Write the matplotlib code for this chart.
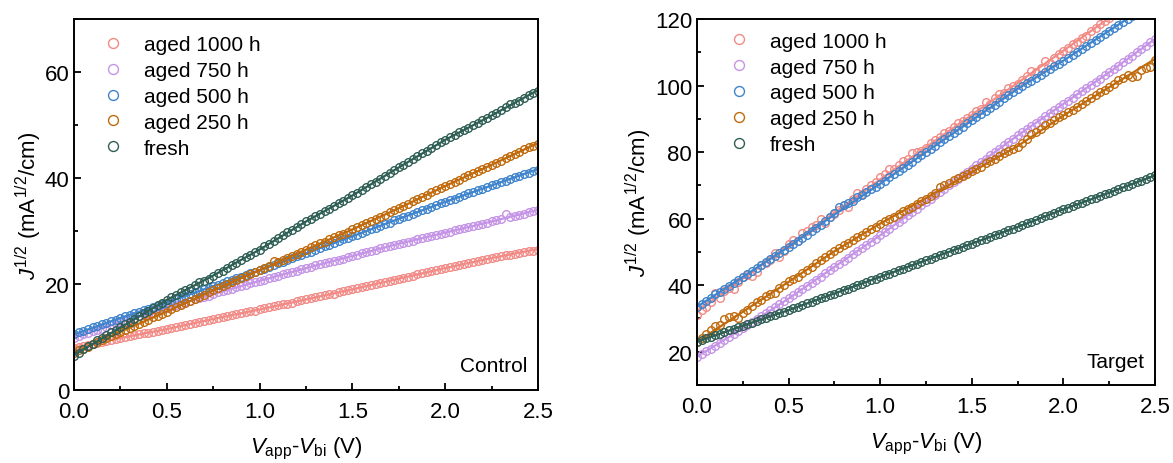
import numpy as np
import matplotlib
matplotlib.use("Agg")
from matplotlib import pyplot as plt
from matplotlib.ticker import MultipleLocator

plt.rcParams["font.family"] = ["Liberation Sans", "DejaVu Sans"]
plt.rcParams["mathtext.fontset"] = "custom"
plt.rcParams["mathtext.rm"] = "Liberation Sans"
plt.rcParams["mathtext.it"] = "Liberation Sans:italic"

# bias grid (V), 0.025 V steps
v = np.round(np.arange(101) * 0.025, 3)
v_fit = [0.0, 0.25, 0.5, 0.75, 1.0, 1.25, 1.5, 1.75, 2.0, 2.25, 2.5]

labels = ["aged 1000 h", "aged 750 h", "aged 500 h", "aged 250 h", "fresh"]
colors = ["#F28A86", "#C594E6", "#3F84CC", "#C06A0C", "#2E5E54"]

# ---- Control ----
ctrl_1000 = [8.0, 8.2, 8.3, 8.5, 8.7, 8.9, 9.1, 9.2, 9.4, 9.6, 9.8,
             10.0, 10.1, 10.3, 10.5, 10.7, 10.8, 11.0, 11.2, 11.3, 11.5,
             11.7, 11.9, 12.1, 12.3, 12.5, 12.6, 12.8, 13.0, 13.2, 13.4,
             13.6, 13.8, 14.0, 14.1, 14.3, 14.5, 14.7, 14.9, 15.0, 15.2,
             15.4, 15.6, 15.8, 16.0, 16.2, 16.3, 16.5, 16.7, 16.9, 17.1,
             17.3, 17.5, 17.7, 17.9, 18.1, 18.2, 18.4, 18.6, 18.8, 19.0,
             19.2, 19.4, 19.6, 19.8, 20.0, 20.2, 20.4, 20.6, 20.8, 21.0,
             21.2, 21.4, 21.6, 21.8, 22.0, 22.2, 22.4, 22.6, 22.8, 23.0,
             23.2, 23.4, 23.6, 23.8, 24.0, 24.2, 24.3, 24.5, 24.7, 24.9,
             25.1, 25.2, 25.4, 25.5, 25.7, 25.9, 26.0, 26.2, 26.3, 26.5]
ctrl_750 = [9.9, 10.2, 10.5, 10.8, 11.1, 11.4, 11.6, 11.9, 12.2, 12.5, 12.8,
            13.1, 13.4, 13.6, 13.9, 14.2, 14.4, 14.7, 15.0, 15.2, 15.5,
            15.8, 16.0, 16.3, 16.6, 16.8, 17.1, 17.3, 17.6, 17.8, 18.1,
            18.4, 18.6, 18.9, 19.1, 19.4, 19.6, 19.9, 20.1, 20.4, 20.6,
            20.8, 21.1, 21.3, 21.6, 21.8, 22.0, 22.3, 22.5, 22.8, 23.0,
            23.2, 23.5, 23.7, 23.9, 24.2, 24.4, 24.6, 24.8, 25.1, 25.3,
            25.5, 25.8, 26.0, 26.2, 26.5, 26.7, 26.9, 27.1, 27.4, 27.6,
            27.8, 28.0, 28.2, 28.4, 28.6, 28.9, 29.1, 29.3, 29.5, 29.7,
            29.9, 30.1, 30.3, 30.5, 30.7, 30.9, 31.1, 31.4, 31.6, 31.8,
            32.0, 32.2, 33.2, 32.6, 32.8, 33.0, 33.3, 33.5, 33.7, 33.9]
ctrl_500 = [10.5, 10.9, 11.2, 11.5, 11.8, 12.1, 12.4, 12.7, 13.0, 13.3, 13.6,
            13.9, 14.2, 14.5, 14.8, 15.1, 15.3, 15.6, 15.9, 16.2, 16.5,
            16.8, 17.1, 17.4, 17.7, 18.1, 18.4, 18.7, 19.0, 19.3, 19.6,
            19.9, 20.2, 20.5, 20.8, 21.1, 21.4, 21.7, 22.0, 22.3, 22.6,
            22.9, 23.3, 23.6, 23.9, 24.2, 24.5, 24.9, 25.2, 25.5, 25.8,
            26.1, 26.5, 26.8, 27.1, 27.4, 27.7, 28.1, 28.4, 28.7, 29.0,
            29.3, 29.7, 30.0, 30.3, 30.6, 31.0, 31.3, 31.6, 32.0, 32.3,
            32.6, 32.9, 33.2, 33.6, 33.9, 34.2, 34.5, 34.9, 35.2, 35.5,
            35.8, 36.1, 36.4, 36.7, 37.1, 37.4, 37.7, 38.0, 38.3, 38.6,
            38.9, 39.2, 39.5, 39.8, 40.1, 40.4, 40.7, 41.0, 41.3, 41.6]
ctrl_250 = [7.0, 7.5, 7.8, 8.2, 8.6, 9.0, 9.4, 9.8, 10.2, 10.6, 11.0,
            11.4, 11.7, 12.1, 12.5, 12.9, 13.2, 13.7, 14.0, 14.4, 14.8,
            15.2, 15.6, 16.0, 16.4, 16.8, 17.2, 17.6, 18.0, 18.4, 18.8,
            19.2, 19.6, 20.0, 20.3, 20.7, 21.1, 21.5, 21.9, 22.2, 22.6,
            23.0, 23.4, 24.3, 24.2, 24.6, 25.0, 25.3, 25.7, 26.1, 26.5,
            26.9, 27.3, 27.7, 28.0, 28.4, 28.8, 29.2, 29.5, 29.9, 30.3,
            30.7, 31.1, 31.5, 31.9, 32.3, 32.7, 33.1, 33.5, 33.9, 34.3,
            34.7, 35.1, 35.6, 36.0, 36.4, 36.8, 37.3, 37.7, 38.1, 38.5,
            38.9, 39.3, 39.7, 40.1, 40.5, 40.9, 41.3, 41.7, 42.1, 42.5,
            42.9, 43.3, 43.8, 44.2, 44.6, 45.0, 45.4, 45.8, 46.1, 46.5]
ctrl_fresh = [6.4, 7.0, 7.8, 8.3, 8.6, 9.4, 9.9, 10.3, 10.9, 11.3, 11.8,
              12.4, 12.8, 13.4, 13.9, 14.5, 15.0, 15.4, 16.0, 16.5, 17.0,
              17.5, 17.9, 18.4, 18.8, 19.3, 19.9, 20.4, 20.6, 21.0, 21.5,
              22.0, 22.5, 23.0, 23.5, 24.0, 24.6, 25.1, 25.5, 26.0, 26.5,
              27.1, 27.6, 28.1, 28.7, 29.2, 29.8, 30.2, 30.8, 31.3, 31.8,
              32.3, 32.8, 33.3, 33.8, 34.2, 34.8, 35.2, 35.7, 36.2, 36.7,
              37.2, 37.8, 38.3, 38.8, 39.3, 39.9, 40.4, 40.9, 41.5, 42.0,
              42.5, 43.1, 43.6, 44.1, 44.7, 45.1, 45.7, 46.2, 46.7, 47.2,
              47.7, 48.1, 48.6, 49.1, 49.5, 50.0, 50.4, 50.9, 51.3, 51.8,
              52.3, 52.8, 53.4, 53.9, 54.2, 54.6, 55.1, 55.6, 56.0, 56.5]

ctrl_fits = [
    [8.0, 9.8, 11.5, 13.4, 15.2, 17.1, 19.0, 21.0, 23.0, 24.9, 26.6],
    [9.9, 12.8, 15.5, 18.1, 20.6, 23.0, 25.3, 27.6, 29.7, 31.8, 34.0],
    [10.5, 13.6, 16.5, 19.6, 22.6, 25.8, 29.0, 32.3, 35.5, 38.6, 41.7],
    [7.0, 11.0, 14.8, 18.8, 22.6, 26.5, 30.3, 34.3, 38.5, 42.5, 46.6],
    [6.6, 11.8, 17.0, 21.6, 26.5, 31.8, 36.7, 42.0, 47.2, 51.8, 56.6],
]

# ---- Target ----
tgt_1000 = [31.0, 32.6, 33.4, 35.0, 37.6, 36.2, 38.4, 39.2, 39.0, 41.0, 42.5,
            43.2, 42.8, 44.0, 46.0, 46.8, 47.6, 49.8, 48.6, 50.2, 52.5,
            53.6, 53.2, 55.6, 56.2, 57.4, 58.2, 59.8, 58.8, 60.6, 61.5,
            62.6, 64.0, 63.6, 66.0, 67.6, 67.4, 68.8, 70.2, 71.0, 72.4,
            73.4, 75.0, 74.8, 76.0, 77.2, 77.8, 79.6, 80.0, 80.4, 81.2,
            82.8, 83.6, 84.6, 85.8, 86.4, 87.4, 88.6, 89.2, 90.2, 91.0,
            92.2, 93.0, 95.2, 94.6, 96.4, 97.4, 97.8, 99.2, 99.8, 100.6,
            101.6, 102.8, 104.4, 104.2, 105.4, 107.4, 106.8, 108.2, 109.4, 110.4,
            111.2, 112.4, 113.2, 114.4, 115.0, 116.4, 117.2, 118.4, 119.4, 120.4,
            121.4, 122.4, 123.4, 124.4, 125.4, 126.4, 127.4, 128.4, 129.4, 130.4]
tgt_750 = [18.5, 19.3, 20.1, 20.9, 21.8, 22.6, 23.5, 24.3, 25.2, 26.1, 27.0,
           27.9, 28.8, 29.7, 30.6, 31.5, 32.4, 33.3, 34.2, 35.1, 36.0,
           36.9, 37.9, 38.8, 39.8, 40.7, 41.7, 42.6, 43.6, 44.5, 45.5,
           46.4, 47.4, 48.3, 49.3, 50.2, 51.2, 52.1, 53.1, 54.0, 55.0,
           56.0, 57.0, 58.0, 59.0, 60.0, 61.0, 62.0, 63.0, 64.0, 65.0,
           66.0, 67.0, 68.0, 69.0, 70.0, 71.0, 72.0, 73.0, 74.0, 75.0,
           76.0, 77.0, 78.0, 79.0, 80.0, 81.0, 82.0, 83.0, 84.0, 85.0,
           85.9, 86.9, 87.8, 88.8, 89.7, 90.7, 91.6, 92.6, 93.5, 94.5,
           95.5, 96.4, 97.4, 98.3, 99.3, 100.2, 101.2, 102.1, 103.1, 104.0,
           105.0, 106.0, 107.0, 108.0, 109.0, 110.0, 111.0, 112.0, 113.0, 114.0]
tgt_500 = [33.5, 34.4, 35.3, 36.2, 37.2, 38.0, 38.9, 39.8, 40.7, 41.6, 42.5,
           43.4, 44.3, 45.2, 46.1, 47.0, 47.9, 48.8, 49.7, 50.6, 51.5,
           52.4, 53.4, 54.3, 55.2, 56.2, 57.1, 58.0, 59.2, 60.4, 61.6,
           63.4, 64.0, 64.6, 65.4, 66.4, 67.2, 68.0, 68.8, 69.6, 70.5,
           71.4, 72.4, 73.4, 74.3, 75.2, 76.2, 77.1, 78.1, 79.0, 80.0,
           81.0, 81.9, 82.9, 83.8, 84.8, 85.7, 86.7, 87.6, 88.6, 89.5,
           90.5, 91.4, 92.4, 93.3, 94.3, 95.2, 96.2, 97.1, 98.1, 99.0,
           99.9, 100.7, 101.5, 102.4, 103.2, 104.1, 104.9, 105.8, 106.6, 107.5,
           108.4, 109.3, 110.2, 111.1, 112.0, 112.9, 113.8, 114.7, 115.6, 116.5,
           117.4, 118.3, 119.2, 120.1, 121.0, 121.9, 122.8, 123.7, 124.6, 125.5]
tgt_250 = [23.0, 24.0, 25.2, 26.6, 27.6, 28.0, 29.8, 30.4, 30.8, 30.0, 31.6,
           32.4, 33.8, 34.8, 35.4, 36.8, 37.4, 37.8, 39.2, 40.0, 41.2,
           41.8, 42.6, 43.8, 44.6, 45.4, 46.6, 47.6, 48.4, 49.4, 50.2,
           51.2, 52.0, 52.8, 53.6, 54.4, 55.2, 56.0, 56.8, 57.6, 58.5,
           59.2, 59.8, 60.6, 61.4, 62.2, 62.8, 63.6, 64.4, 65.2, 66.0,
           66.8, 67.6, 69.4, 70.0, 70.8, 71.6, 72.2, 72.8, 73.4, 74.2,
           74.8, 75.6, 76.6, 77.2, 78.0, 78.8, 79.6, 80.2, 80.8, 81.6,
           82.6, 83.8, 85.4, 86.0, 86.8, 88.2, 88.8, 89.6, 90.4, 91.2,
           92.0, 92.8, 93.6, 94.4, 95.4, 96.4, 97.2, 98.0, 98.8, 99.6,
           100.4, 101.6, 102.4, 103.2, 102.6, 102.8, 104.8, 105.2, 105.6, 107.8]
tgt_fresh = [23.0, 23.5, 24.0, 24.4, 24.9, 25.4, 25.9, 26.4, 26.9, 27.3, 27.8,
             28.3, 28.7, 29.2, 29.7, 30.2, 30.6, 31.1, 31.6, 32.0, 32.5,
             33.0, 33.5, 34.0, 34.5, 35.0, 35.5, 36.0, 36.5, 37.0, 37.5,
             38.0, 38.5, 39.0, 39.5, 40.0, 40.5, 41.0, 41.5, 42.0, 42.5,
             43.0, 43.5, 44.0, 44.5, 45.0, 45.5, 46.0, 46.5, 47.0, 47.5,
             48.0, 48.5, 49.0, 49.5, 50.0, 50.5, 51.0, 51.5, 52.0, 52.5,
             53.0, 53.5, 54.0, 54.5, 55.0, 55.5, 56.0, 56.5, 57.0, 57.5,
             58.0, 58.6, 59.1, 59.6, 60.2, 60.7, 61.2, 61.7, 62.3, 62.8,
             63.3, 63.8, 64.3, 64.8, 65.3, 65.8, 66.3, 66.8, 67.3, 67.8,
             68.3, 68.8, 69.4, 69.9, 70.4, 70.9, 71.4, 72.0, 72.5, 73.0]

tgt_fits = [
    [32.0, 42.0, 52.0, 61.8, 71.8, 81.5, 91.2, 100.8, 110.5, 120.3, 130.0],
    [18.5, 27.0, 36.0, 45.5, 55.0, 65.0, 75.0, 85.0, 94.5, 104.0, 114.0],
    [33.5, 42.5, 51.5, 61.2, 70.5, 80.0, 89.5, 99.0, 107.5, 116.5, 125.5],
    [23.0, 32.0, 41.0, 50.2, 58.5, 66.2, 74.0, 81.8, 91.0, 99.5, 108.0],
    [23.0, 27.8, 32.5, 37.5, 42.5, 47.5, 52.5, 57.5, 62.8, 67.8, 73.0],
]

ctrl_data = [ctrl_1000, ctrl_750, ctrl_500, ctrl_250, ctrl_fresh]
tgt_data = [tgt_1000, tgt_750, tgt_500, tgt_250, tgt_fresh]

fig = plt.figure(figsize=(11.73, 4.64), dpi=100)
ax1 = fig.add_axes([0.0631, 0.1573, 0.3956, 0.7996])
ax2 = fig.add_axes([0.5942, 0.1681, 0.3905, 0.7888])


def draw_panel(ax, data, fits, ylim, ystep, tag, leg_anchor):
    for ys, fit, lab, col in zip(data, fits, labels, colors):
        ax.plot(v, ys, linestyle="none", marker="o", markersize=5.5,
                markerfacecolor="none", markeredgecolor=col, markeredgewidth=1.0,
                label=lab)
        ax.plot(v_fit, fit, color=col, linewidth=1.6)

    ax.set_xlim(0, 2.5)
    ax.set_ylim(*ylim)
    ax.xaxis.set_major_locator(MultipleLocator(0.5))
    ax.xaxis.set_minor_locator(MultipleLocator(0.25))
    ax.yaxis.set_major_locator(MultipleLocator(ystep))
    ax.yaxis.set_minor_locator(MultipleLocator(ystep / 2))
    ax.tick_params(which="both", direction="in", labelsize=16, width=1.3)
    ax.tick_params(axis="x", pad=8)
    ax.tick_params(which="major", length=5)
    ax.tick_params(which="minor", length=3)
    for sp in ax.spines.values():
        sp.set_linewidth(1.4)

    ax.set_xlabel(r"$V_{\mathrm{app}}$-$V_{\mathrm{bi}}$ (V)", fontsize=16, labelpad=9)
    ax.set_ylabel(r"$J^{1/2}$ (mA$^{1/2}$/cm)", fontsize=16, labelpad=0.5)
    ax.text(0.977, 0.065, tag, transform=ax.transAxes, ha="right", va="center",
            fontsize=15)

    ax.legend(loc="upper left", bbox_to_anchor=leg_anchor, frameon=False,
              fontsize=15, markerscale=1.3, handletextpad=0.85,
              labelspacing=0.33, handlelength=1.2, borderaxespad=0)


draw_panel(ax1, ctrl_data, ctrl_fits, (0, 70), 20, "Control", (0.04, 0.979))
draw_panel(ax2, tgt_data, tgt_fits, (10, 120), 20, "Target", (0.047, 0.988))

fig.savefig("out.png", dpi=100)
